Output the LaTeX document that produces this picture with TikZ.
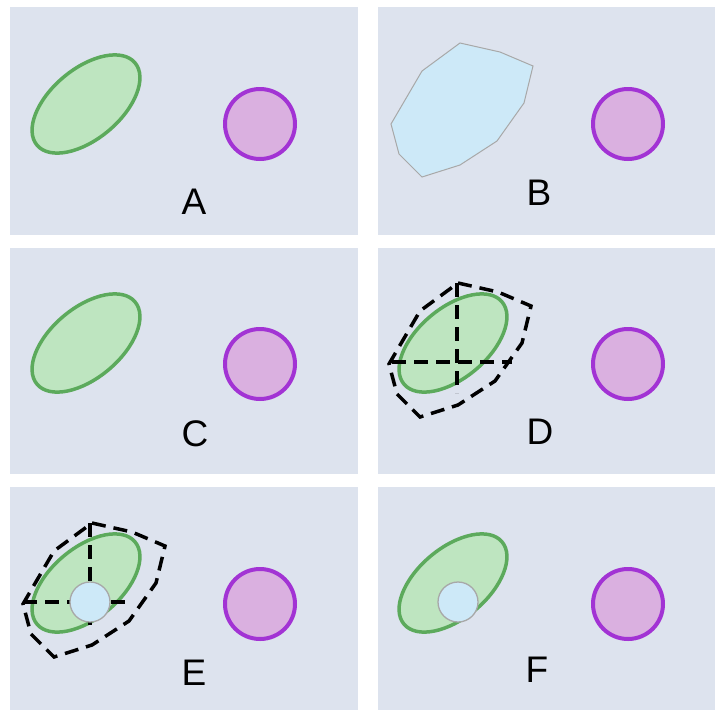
\documentclass[tikz,border=0pt]{standalone}
\usepackage{fontspec}
\setmainfont{Liberation Sans}
\definecolor{panelbg}{HTML}{DDE3EE}
\definecolor{cellfill}{HTML}{BEE5C0}
\definecolor{cellline}{HTML}{5CAA5C}
\definecolor{ionfill}{HTML}{DAB0E0}
\definecolor{ionline}{HTML}{A233D4}
\definecolor{probefill}{HTML}{CDE9F8}
\definecolor{probeline}{HTML}{A8A8A8}
\begin{document}
\begin{tikzpicture}[x=1pt, y=-1pt,
  panel/.style={fill=panelbg},
  cell/.style={fill=cellfill, draw=cellline, line width=3.5pt},
  ion/.style={fill=ionfill, draw=ionline, line width=4pt},
  probe/.style={fill=probefill, draw=probeline, line width=1.3pt},
  hull/.style={draw=black, line width=3.5pt, dash pattern=on 14pt off 8pt},
  letter/.style={font=\fontsize{37}{40}\selectfont}]

\useasboundingbox[fill=white] (0,0) rectangle (715,710);

% panels
\fill[panel] (10,7) rectangle (358,235);
\fill[panel] (378,7) rectangle (715,235);
\fill[panel] (10,248) rectangle (358,474);
\fill[panel] (378,248) rectangle (715,474);
\fill[panel] (10,487) rectangle (358,710);
\fill[panel] (378,487) rectangle (715,710);

% A
\draw[cell, rotate around={40:(86,104)}] (86,104) ellipse (64 and 35);
\draw[ion] (260,124) circle (35);
\node[letter] (lblA) at (194,202) {A};

% B
\draw[probe, line width=1pt] (460,43) -- (500,52) -- (533,66) -- (524,103) -- (497,141)
  -- (460,165) -- (422,177) -- (399,154) -- (391,124) -- (422,71) -- cycle;
\draw[ion] (628,124) circle (35);
\node[letter] (lblB) at (539,193) {B};

% C
\draw[cell, rotate around={40:(86,343)}] (86,343) ellipse (64 and 35);
\draw[ion] (260,364) circle (35);
\node[letter] (lblC) at (195,434) {C};

% D
\draw[cell, rotate around={40:(453,343)}] (453,343) ellipse (64 and 35);
\begin{scope}[shift={(-2,240)}]
\draw[hull] (460,43) -- (500,52) -- (533,66) -- (524,103) -- (497,141)
  -- (460,165) -- (422,177) -- (399,154) -- (391,124) -- (422,71) -- cycle;
\end{scope}
\draw[hull] (457,283) -- (457,393);
\draw[hull] (392,362) -- (512,362);
\draw[ion] (628,364) circle (35);
\node[letter] (lblD) at (540,432) {D};

% E
\draw[cell, rotate around={40:(86,583)}] (86,583) ellipse (64 and 35);
\begin{scope}[shift={(-368,480)}]
\draw[hull] (460,43) -- (500,52) -- (533,66) -- (524,103) -- (497,141)
  -- (460,165) -- (422,177) -- (399,154) -- (391,124) -- (422,71) -- cycle;
\end{scope}
\draw[hull] (90,523) -- (90,633);
\draw[hull] (23,602) -- (128,602);
\draw[probe] (90,602) circle (20);
\draw[ion] (260,604) circle (35);
\node[letter] (lblE) at (194,673) {E};

% F
\draw[cell, rotate around={40:(453,583)}] (453,583) ellipse (64 and 35);
\draw[probe] (458,602) circle (20);
\draw[ion] (628,604) circle (35);
\node[letter] (lblF) at (537,670) {F};

\end{tikzpicture}
\end{document}
